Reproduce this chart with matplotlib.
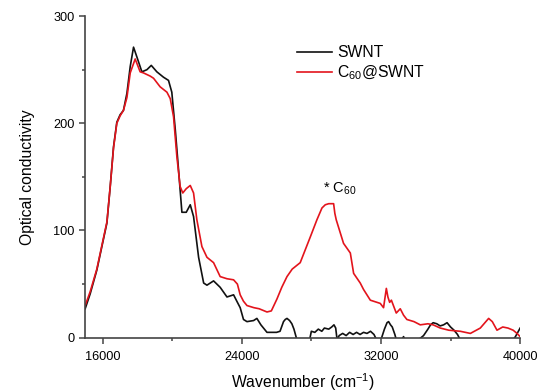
import numpy as np
import matplotlib.pyplot as plt

plt.rcParams['font.family'] = ['Liberation Sans', 'DejaVu Sans']
plt.rcParams['mathtext.default'] = 'regular'

# SWNT (black)
swnt_x = [15000, 15290, 15670, 15960, 16250, 16440, 16630, 16820, 17010, 17200,
          17400, 17590, 17780, 17970, 18260, 18550, 18800, 19120, 19500, 19790,
          19980, 20180, 20370, 20560, 20810, 21040, 21230, 21520, 21810, 22000,
          22380, 22760, 23150, 23530, 23750, 23910, 24100, 24300, 24680, 24870,
          25100, 25250, 25450, 25640, 26000, 26200, 26400, 26500, 26600, 26750,
          26880, 27000, 27170, 27400, 27800, 27900, 28000, 28200, 28400, 28600,
          28750, 29000, 29170, 29300, 29400, 29480, 29600, 29800, 30000, 30200,
          30400, 30600, 30800, 31000, 31200, 31400, 31600, 31780, 32000, 32200,
          32350, 32440, 32550, 32650, 32800, 32900, 33100, 33300, 33400, 34000,
          34450, 34700, 34850, 35000, 35210, 35400, 35600, 35800, 36000, 36200,
          36400, 36560, 37000, 39500, 39730, 40000]
swnt_y = [27, 41, 63, 85, 107, 141, 178, 201, 208, 212,
          228, 253, 271, 262, 248, 250, 254, 248, 243, 240,
          229, 194, 156, 117, 117, 124, 113, 75, 51, 49,
          53, 47, 38, 40, 33, 28, 17, 15, 16, 18,
          12, 9, 5, 5, 5, 6, 15, 17, 18, 16,
          13, 8, -2, -5, -3, -2, 6, 5, 8, 6,
          9, 8, 10, 12, 9, -2, 2, 4, 2, 5,
          3, 5, 3, 5, 4, 6, 3, -3, -2, 8,
          14, 15, 12, 10, 3, -3, -4, 1, -3, -4,
          2, 8, 12, 14, 13, 11, 12, 14, 10, 7,
          3, -2, -4, -4, 1, 9]

# C60@SWNT (red)
c60_x = [15000, 15290, 15670, 15960, 16250, 16440, 16630, 16820, 17010, 17200,
         17400, 17590, 17875, 18160, 18350, 18740, 18930, 19310, 19700, 19890,
         20080, 20270, 20460, 20610, 20810, 21040, 21230, 21420, 21710, 22000,
         22380, 22760, 23150, 23530, 23750, 23910, 24100, 24300, 24700, 25000,
         25450, 25700, 26020, 26300, 26600, 26900, 27360, 27650, 27940, 28320,
         28610, 28800, 29000, 29280, 29350, 29430, 29850, 30240, 30430, 30810,
         31000, 31390, 31770, 31960, 32150, 32310, 32400, 32500, 32600, 32880,
         33110, 33300, 33490, 33900, 34260, 34700, 35000, 35410, 35900, 36560,
         37140, 37710, 38190, 38400, 38670, 39000, 39300, 39600, 39820, 40000]
c60_y = [30, 43, 64, 86, 108, 141, 177, 200, 207, 212,
         224, 247, 260, 248, 247, 244, 242, 234, 229, 223,
         206, 169, 141, 135, 139, 142, 135, 110, 85, 75,
         70, 57, 55, 54, 50, 40, 34, 30, 28, 27,
         24, 25, 36, 47, 57, 64, 70, 82, 94, 110,
         121, 124, 125, 125, 116, 110, 88, 79, 60, 51,
         45, 35, 33, 32, 28, 46, 38, 33, 35, 23,
         27, 21, 17, 15, 12, 13, 12, 9, 7, 6,
         4, 9, 18, 15, 7, 10, 9, 7, 4, 1]

fig = plt.figure(figsize=(5.39, 3.92), dpi=100)
ax = fig.add_axes([0.158, 0.1385, 0.807, 0.8205])

ax.plot(swnt_x, swnt_y, color='#111111', lw=1.2, label='SWNT')
ax.plot(c60_x, c60_y, color='#e3141c', lw=1.2, label='C$_{60}$@SWNT')

ax.set_xlim(15000, 40000)
ax.set_ylim(0, 300)
ax.set_xticks([16000, 24000, 32000, 40000])
ax.set_xticks([20000, 28000, 36000], minor=True)
ax.set_yticks([0, 100, 200, 300])
ax.set_yticks([50, 150, 250], minor=True)

for s in ['top', 'right']:
    ax.spines[s].set_visible(False)
for s in ['left', 'bottom']:
    ax.spines[s].set_color('#444444')
    ax.spines[s].set_linewidth(1.2)

ax.tick_params(which='major', length=4.5, width=1.1, color='#444444',
               labelsize=9.2, pad=3)
ax.tick_params(which='minor', length=2.5, width=1.1, color='#444444')
ax.tick_params(axis='x', pad=5)

ax.set_xlabel('Wavenumber (cm$^{-1}$)', fontsize=11.3)
ax.set_ylabel('Optical conductivity', fontsize=11.3)
ax.xaxis.set_label_coords(0.501, -0.103)
ax.yaxis.set_label_coords(-0.115, 0.5)

ax.text(28650, 135, '* C$_{60}$', fontsize=10.5, ha='left', va='baseline')

ax.legend(loc='upper left', bbox_to_anchor=(0.487, 0.91), frameon=False,
          fontsize=11.3, handlelength=2.2, handletextpad=0.35,
          labelspacing=0.25, borderpad=0, borderaxespad=0)

fig.savefig('out.png', dpi=100)
